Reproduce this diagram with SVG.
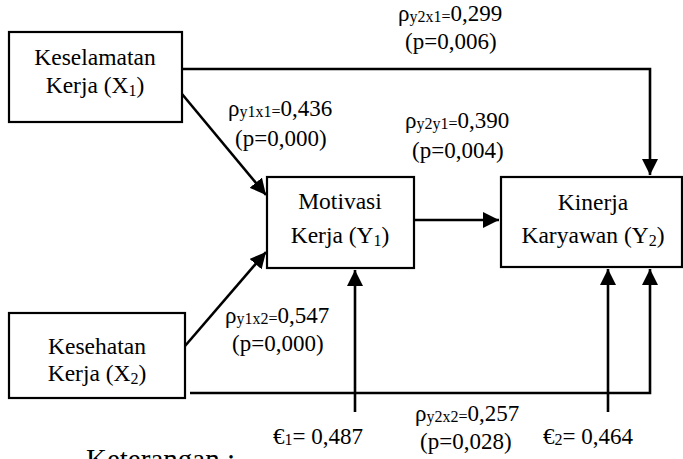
<svg xmlns="http://www.w3.org/2000/svg" width="683" height="459" viewBox="0 0 683 459">
<style>
text{font-family:"Liberation Serif","Times New Roman",serif;fill:#000}
.n{font-size:23.5px;text-anchor:middle}
.l{font-size:23px}
.s{font-size:16px}
.k{font-size:29px}
.box{fill:#fff;stroke:#000;stroke-width:2.2}
.c{fill:none;stroke:#000;stroke-width:2.6}
</style>
<defs>
<marker id="ah" markerUnits="userSpaceOnUse" markerWidth="18" markerHeight="16" viewBox="0 0 18 16" refX="16" refY="8" orient="auto">
<path d="M0,0 L16,8 L0,16 z" fill="#000"/>
</marker>
</defs>
<rect width="683" height="459" fill="#fff"/>
<g id="connectors">
<polyline class="c" points="182,69 650,69 650,175" marker-end="url(#ah)"/>
<line class="c" x1="182" y1="94" x2="266" y2="195" marker-end="url(#ah)"/>
<line class="c" x1="185" y1="346" x2="266" y2="252" marker-end="url(#ah)"/>
<line class="c" x1="414" y1="220" x2="499" y2="220" marker-end="url(#ah)"/>
<polyline class="c" points="190,393 650,393 650,269" marker-end="url(#ah)"/>
<line class="c" x1="355" y1="412" x2="355" y2="270" marker-end="url(#ah)"/>
<line class="c" x1="608" y1="412" x2="608" y2="269" marker-end="url(#ah)"/>
</g>
<g id="X1">
<rect class="box" x="9" y="32" width="173" height="90"/>
<text class="n" x="95" y="65">Keselamatan</text>
<text class="n" x="95" y="93">Kerja (X<tspan class="s" dy="3">1</tspan><tspan dy="-3">)</tspan></text>
</g>
<g id="X2">
<rect class="box" x="9" y="313" width="176" height="85"/>
<text class="n" x="97" y="354">Kesehatan</text>
<text class="n" x="97" y="381">Kerja (X<tspan class="s" dy="3">2</tspan><tspan dy="-3">)</tspan></text>
</g>
<g id="Y1">
<rect class="box" x="267" y="177" width="147" height="91"/>
<text class="n" x="340" y="209">Motivasi</text>
<text class="n" x="340" y="243">Kerja (Y<tspan class="s" dy="3">1</tspan><tspan dy="-3">)</tspan></text>
</g>
<g id="Y2">
<rect class="box" x="501" y="177" width="181" height="90"/>
<text class="n" x="593" y="210">Kinerja</text>
<text class="n" x="593" y="243">Karyawan (Y<tspan class="s" dy="3">2</tspan><tspan dy="-3">)</tspan></text>
</g>
<g id="labels">
<text class="l" x="398" y="21">ρ<tspan class="s" dy="1">y2x1=</tspan><tspan dy="-1">0,299</tspan></text>
<text class="l" x="405" y="49">(p=0,006)</text>
<text class="l" x="228" y="116">ρ<tspan class="s" dy="1">y1x1=</tspan><tspan dy="-1">0,436</tspan></text>
<text class="l" x="235" y="146">(p=0,000)</text>
<text class="l" x="405" y="128">ρ<tspan class="s" dy="1">y2y1=</tspan><tspan dy="-1">0,390</tspan></text>
<text class="l" x="412" y="158">(p=0,004)</text>
<text class="l" x="225" y="323">ρ<tspan class="s" dy="1">y1x2=</tspan><tspan dy="-1">0,547</tspan></text>
<text class="l" x="232" y="351">(p=0,000)</text>
<text class="l" x="415" y="421">ρ<tspan class="s" dy="1">y2x2=</tspan><tspan dy="-1">0,257</tspan></text>
<text class="l" x="420" y="449">(p=0,028)</text>
<text class="l" x="273" y="444">€<tspan class="s" dy="1">1</tspan><tspan dy="-1">= 0,487</tspan></text>
<text class="l" x="543" y="444">€<tspan class="s" dy="1">2</tspan><tspan dy="-1">= 0,464</tspan></text>
<text class="k" x="86" y="469">Keterangan :</text>
</g>
</svg>
